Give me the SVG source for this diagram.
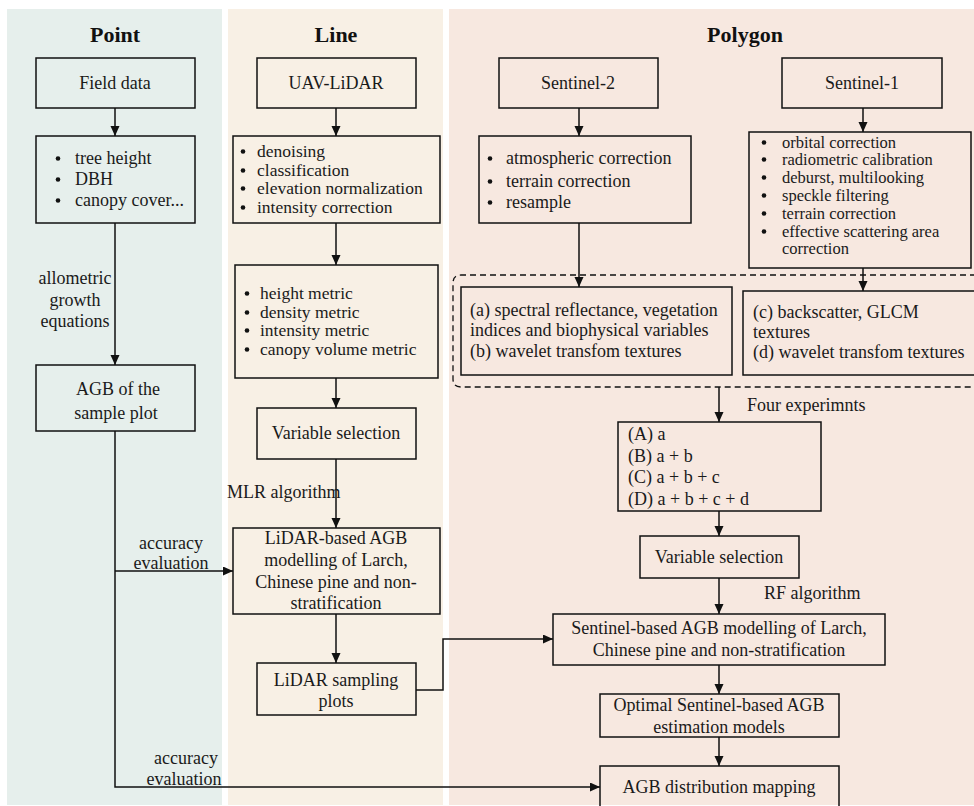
<svg xmlns="http://www.w3.org/2000/svg" width="974" height="806" viewBox="0 0 974 806">
<defs>
<marker id="ah" markerUnits="userSpaceOnUse" markerWidth="11" markerHeight="10" refX="10" refY="4.5" orient="auto">
<path d="M0,0 L10,4.5 L0,9 z" fill="#111"/>
</marker>
<style>
.bx{fill:none;stroke:#111;stroke-width:1.5}
.t{font-family:"Liberation Serif","Times New Roman",serif;font-size:18px;fill:#1a1a1a}
.s{font-size:17.5px}
.xs{font-size:16.5px}
.m{text-anchor:middle}
.h{font-family:"Liberation Serif","Times New Roman",serif;font-size:22px;font-weight:bold;fill:#111;text-anchor:middle}
.c{fill:none;stroke:#111;stroke-width:1.5}
.a{marker-end:url(#ah)}
.d{fill:none;stroke:#111;stroke-width:1.3;stroke-dasharray:6,4}
.dot{fill:#111}
</style>
</defs>
<g id="panels">
<rect x="7" y="9" width="215" height="796" fill="#e6efec"/>
<rect x="228" y="9" width="215" height="796" fill="#f8f0e5"/>
<rect x="449" y="9" width="525" height="796" fill="#f7e8e0"/>
<text class="h" x="115" y="42">Point</text>
<text class="h" x="336" y="42">Line</text>
<text class="h" x="745" y="42">Polygon</text>
</g>
<g id="connectors">
<line class="c a" x1="115" y1="108" x2="115" y2="136"/>
<line class="c a" x1="115" y1="223" x2="115" y2="365"/>
<polyline class="c a" points="115,431 115,787 600,787"/>
<line class="c a" x1="115" y1="571" x2="233" y2="571"/>
<line class="c a" x1="336" y1="108" x2="336" y2="136"/>
<line class="c a" x1="336" y1="223" x2="336" y2="265"/>
<line class="c a" x1="336" y1="378" x2="336" y2="408"/>
<line class="c a" x1="336" y1="459" x2="336" y2="528"/>
<line class="c a" x1="336" y1="614" x2="336" y2="663"/>
<polyline class="c a" points="416,690 443,690 443,639 553,639"/>
<line class="c a" x1="579" y1="108" x2="579" y2="136"/>
<line class="c a" x1="579" y1="223" x2="579" y2="287"/>
<line class="c a" x1="863" y1="108" x2="863" y2="132"/>
<line class="c a" x1="863" y1="268" x2="863" y2="291"/>
<line class="c a" x1="719" y1="387" x2="719" y2="422"/>
<line class="c a" x1="719" y1="511" x2="719" y2="536"/>
<line class="c a" x1="719" y1="578" x2="719" y2="614"/>
<line class="c a" x1="719" y1="665" x2="719" y2="694"/>
<line class="c a" x1="719" y1="737" x2="719" y2="766"/>
<text class="t m" x="75" y="284">allometric</text>
<text class="t m" x="75" y="306">growth</text>
<text class="t m" x="75" y="327">equations</text>
<text class="t m" x="171" y="549">accuracy</text>
<text class="t m" x="171" y="569">evaluation</text>
<text class="t m" x="186" y="764">accuracy</text>
<text class="t m" x="184" y="785">evaluation</text>
<text class="t" x="227" y="498">MLR algorithm</text>
<text class="t" x="747" y="411">Four experimnts</text>
<text class="t" x="764" y="599">RF algorithm</text>
</g>
<g id="field-data">
<rect class="bx" x="36" y="58" width="159" height="50"/>
<text class="t m" x="115" y="89">Field data</text>
</g>
<g id="field-vars">
<rect class="bx" x="36" y="136" width="159" height="87"/>
<circle class="dot" cx="58" cy="158.5" r="2.3"/>
<circle class="dot" cx="58" cy="179.5" r="2.3"/>
<circle class="dot" cx="58" cy="200.5" r="2.3"/>
<text class="t" x="75" y="164">tree height</text>
<text class="t" x="75" y="185">DBH</text>
<text class="t" x="75" y="206">canopy cover...</text>
</g>
<g id="agb-plot">
<rect class="bx" x="36" y="365" width="159" height="66"/>
<text class="t m" x="118" y="395">AGB of the</text>
<text class="t m" x="116" y="419">sample plot</text>
</g>
<g id="uav-lidar">
<rect class="bx" x="257" y="58" width="159" height="50"/>
<text class="t m" x="336" y="89">UAV-LiDAR</text>
</g>
<g id="lidar-proc">
<rect class="bx" x="233" y="136" width="207" height="87"/>
<circle class="dot" cx="243" cy="151.5" r="2.3"/>
<circle class="dot" cx="243" cy="170.5" r="2.3"/>
<circle class="dot" cx="243" cy="188.5" r="2.3"/>
<circle class="dot" cx="243" cy="207.5" r="2.3"/>
<text class="t s" x="257" y="157">denoising</text>
<text class="t s" x="257" y="176">classification</text>
<text class="t s" x="257" y="194">elevation normalization</text>
<text class="t s" x="257" y="213">intensity correction</text>
</g>
<g id="lidar-metrics">
<rect class="bx" x="235" y="265" width="203" height="113"/>
<circle class="dot" cx="247" cy="293.5" r="2.3"/>
<circle class="dot" cx="247" cy="312.5" r="2.3"/>
<circle class="dot" cx="247" cy="330.5" r="2.3"/>
<circle class="dot" cx="247" cy="349.5" r="2.3"/>
<text class="t s" x="260" y="299">height metric</text>
<text class="t s" x="260" y="318">density metric</text>
<text class="t s" x="260" y="336">intensity metric</text>
<text class="t s" x="260" y="355">canopy volume metric</text>
</g>
<g id="lidar-varsel">
<rect class="bx" x="257" y="408" width="159" height="51"/>
<text class="t m" x="336" y="439">Variable selection</text>
</g>
<g id="lidar-agb">
<rect class="bx" x="233" y="528" width="207" height="86"/>
<text class="t m" x="336" y="544">LiDAR-based AGB</text>
<text class="t m" x="336" y="566">modelling of Larch,</text>
<text class="t m" x="336" y="588">Chinese pine and non-</text>
<text class="t m" x="336" y="609">stratification</text>
</g>
<g id="lidar-plots">
<rect class="bx" x="257" y="663" width="159" height="52"/>
<text class="t m" x="336" y="686">LiDAR sampling</text>
<text class="t m" x="336" y="707">plots</text>
</g>
<g id="sentinel2">
<rect class="bx" x="499" y="58" width="159" height="50"/>
<text class="t m" x="578" y="89">Sentinel-2</text>
</g>
<g id="s2-proc">
<rect class="bx" x="479" y="136" width="212" height="87"/>
<circle class="dot" cx="490" cy="158.5" r="2.3"/>
<circle class="dot" cx="490" cy="181.5" r="2.3"/>
<circle class="dot" cx="490" cy="202.5" r="2.3"/>
<text class="t" x="506" y="164">atmospheric correction</text>
<text class="t" x="506" y="187">terrain correction</text>
<text class="t" x="506" y="208">resample</text>
</g>
<g id="sentinel1">
<rect class="bx" x="782" y="58" width="160" height="50"/>
<text class="t m" x="862" y="89">Sentinel-1</text>
</g>
<g id="s1-proc">
<rect class="bx" x="749" y="132" width="222" height="136"/>
<circle class="dot" cx="764" cy="142.5" r="2.3"/>
<circle class="dot" cx="764" cy="159.5" r="2.3"/>
<circle class="dot" cx="764" cy="177.5" r="2.3"/>
<circle class="dot" cx="764" cy="195.5" r="2.3"/>
<circle class="dot" cx="764" cy="213.5" r="2.3"/>
<circle class="dot" cx="764" cy="231.5" r="2.3"/>
<text class="t xs" x="782" y="148">orbital correction</text>
<text class="t xs" x="782" y="165">radiometric calibration</text>
<text class="t xs" x="782" y="183">deburst, multilooking</text>
<text class="t xs" x="782" y="201">speckle filtering</text>
<text class="t xs" x="782" y="219">terrain correction</text>
<text class="t xs" x="782" y="237">effective scattering area</text>
<text class="t xs" x="782" y="254">correction</text>
</g>
<g id="feature-group">
<path class="d" d="M976,275 L461,275 Q453,275 453,283 L453,379 Q453,387 461,387 L976,387"/>
</g>
<g id="s2-features">
<rect class="bx" x="461" y="287" width="271" height="88"/>
<text class="t" x="470" y="316">(a) spectral reflectance, vegetation</text>
<text class="t" x="470" y="336">indices and biophysical variables</text>
<text class="t" x="470" y="357">(b) wavelet transfom textures</text>
</g>
<g id="s1-features">
<rect class="bx" x="743" y="291" width="240" height="84"/>
<text class="t" x="753" y="318">(c) backscatter, GLCM</text>
<text class="t" x="753" y="338">textures</text>
<text class="t" x="753" y="358">(d) wavelet transfom textures</text>
</g>
<g id="experiments">
<rect class="bx" x="618" y="422" width="203" height="89"/>
<text class="t" x="628" y="440">(A) a</text>
<text class="t" x="628" y="462">(B) a + b</text>
<text class="t" x="628" y="483">(C) a + b + c</text>
<text class="t" x="628" y="505">(D) a + b + c + d</text>
</g>
<g id="s-varsel">
<rect class="bx" x="640" y="536" width="159" height="42"/>
<text class="t m" x="719" y="563">Variable selection</text>
</g>
<g id="sentinel-agb">
<rect class="bx" x="553" y="614" width="332" height="51"/>
<text class="t m" x="719" y="634">Sentinel-based AGB modelling of Larch,</text>
<text class="t m" x="719" y="656">Chinese pine and non-stratification</text>
</g>
<g id="optimal">
<rect class="bx" x="600" y="694" width="239" height="43"/>
<text class="t m" x="719" y="711">Optimal Sentinel-based AGB</text>
<text class="t m" x="719" y="733">estimation models</text>
</g>
<g id="agb-map">
<rect class="bx" x="600" y="766" width="239" height="50"/>
<text class="t m" x="719" y="793">AGB distribution mapping</text>
</g>
</svg>
